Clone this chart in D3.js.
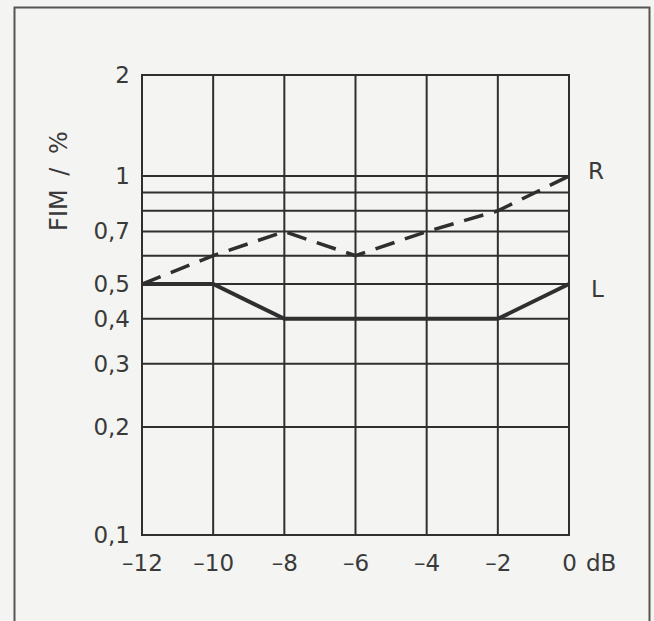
<!DOCTYPE html>
<html>
<head>
<meta charset="utf-8">
<script src="https://cdn.jsdelivr.net/npm/d3@7"></script>
<style>
  body { margin: 0; background: #f4f4f2; }
  svg { display: block; font-family: "DejaVu Sans", sans-serif; }
</style>
</head>
<body>
<script>
var w = 654;
var h = 621;

// data
var levels = [-12, -10, -8, -6, -4, -2, 0];          // dB
var fimR = [0.5, 0.6, 0.7, 0.6, 0.7, 0.8, 1];        // dashed, "R"
var fimL = [0.5, 0.5, 0.4, 0.4, 0.4, 0.4, 0.5];      // solid, "L"
var gridValues = [0.2, 0.3, 0.4, 0.5, 0.6, 0.7, 0.8, 0.9, 1];
var yTickValues = [0.1, 0.2, 0.3, 0.4, 0.5, 0.7, 1, 2];
var xTickValues = [-12, -10, -8, -6, -4, -2, 0];

var ink = "#2f2f2f";
var textInk = "#3a3a3a";
var font = "DejaVu Sans, sans-serif";
var fs = 23;

var svg = d3.select("body")
    .append("svg")
    .attr("width", w)
    .attr("height", h);

// outer frame (open at the bottom)
svg.append("path")
    .attr("d", "M14.5," + h + "V7.5H649.5V" + h)
    .attr("fill", "none")
    .attr("stroke", "#555")
    .attr("stroke-width", 2);

var x = d3.scaleLinear()
    .domain([-12, 0])
    .range([142, 569]);

// the printed grid is log-like, a bit stretched above 1
var y = d3.scaleLog()
    .domain([0.1, 1, 2])
    .range([535, 176, 75]);

var grid = svg.append("g")
    .attr("stroke", ink)
    .attr("stroke-width", 2);

// horizontal grid
grid.selectAll("line.h")
    .data(gridValues)
    .enter()
    .append("line")
    .attr("class", "h")
    .attr("x1", x(-12))
    .attr("x2", x(0))
    .attr("y1", function(d) { return y(d); })
    .attr("y2", function(d) { return y(d); });

// vertical grid
grid.selectAll("line.v")
    .data(levels)
    .enter()
    .append("line")
    .attr("class", "v")
    .attr("x1", function(d) { return x(d); })
    .attr("x2", function(d) { return x(d); })
    .attr("y1", y(2))
    .attr("y2", y(0.1));

// frame of the plot
grid.append("rect")
    .attr("x", x(-12))
    .attr("y", y(2))
    .attr("width", x(0) - x(-12))
    .attr("height", y(0.1) - y(2))
    .attr("fill", "none");

// y tick labels
var yAxis = d3.axisLeft(y)
    .tickValues(yTickValues)
    .tickSize(0)
    .tickPadding(12)
    .tickFormat(function(d) { return String(d).replace(".", ","); });

var gy = svg.append("g")
    .attr("transform", "translate(" + x(-12) + ",0)")
    .call(yAxis);
gy.select(".domain").remove();
gy.selectAll("text")
    .attr("font-size", fs)
    .attr("fill", textInk)
    .style("font-family", font);

// x tick labels
var xAxis = d3.axisBottom(x)
    .tickValues(xTickValues)
    .tickSize(0)
    .tickPadding(20)
    .tickFormat(function(d) { return d < 0 ? "\u2013" + Math.abs(d) : "0"; });

var gx = svg.append("g")
    .attr("transform", "translate(0," + y(0.1) + ")")
    .call(xAxis);
gx.select(".domain").remove();
gx.selectAll("text")
    .attr("font-size", fs)
    .attr("fill", textInk)
    .style("font-family", font);

svg.append("text")
    .attr("x", x(0) + 17)
    .attr("y", y(0.1) + 20)
    .attr("dy", "0.71em")
    .attr("font-size", fs)
    .attr("fill", textInk)
    .text("dB");

// y title
svg.append("text")
    .attr("transform", "translate(67,181) rotate(-90)")
    .attr("text-anchor", "middle")
    .attr("font-size", 24)
    .attr("word-spacing", 6)
    .attr("fill", textInk)
    .text("FIM / %");

// series
var line = d3.line()
    .x(function(d) { return x(d[0]); })
    .y(function(d) { return y(d[1]); });

svg.append("path")
    .datum(d3.zip(levels, fimR))
    .attr("d", line)
    .attr("fill", "none")
    .attr("stroke", ink)
    .attr("stroke-width", 3.5)
    .attr("stroke-dasharray", "20,11");

svg.append("path")
    .datum(d3.zip(levels, fimL))
    .attr("d", line)
    .attr("fill", "none")
    .attr("stroke", ink)
    .attr("stroke-width", 4);

// series labels
svg.append("text")
    .attr("x", x(0) + 19)
    .attr("y", y(fimR[fimR.length - 1]) + 3)
    .attr("font-size", fs)
    .attr("fill", textInk)
    .text("R");

svg.append("text")
    .attr("x", x(0) + 22)
    .attr("y", y(fimL[fimL.length - 1]) + 13)
    .attr("font-size", fs)
    .attr("fill", textInk)
    .text("L");
</script>
</body>
</html>
